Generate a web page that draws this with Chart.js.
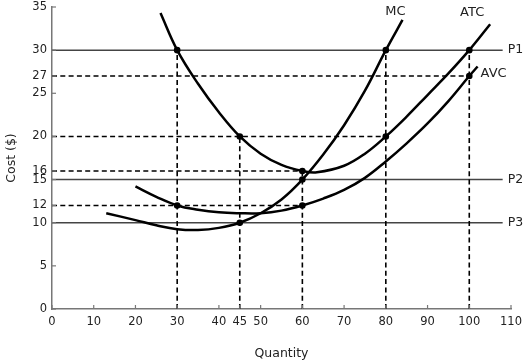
<!DOCTYPE html>
<html>
<head>
<meta charset="utf-8">
<script src="https://cdn.jsdelivr.net/npm/chart.js@4"></script>
<style>
  html, body { margin: 0; padding: 0; background: #fff; }
</style>
</head>
<body>
<canvas id="myChart" width="526" height="361"></canvas>
<script>
// axis ticks
const xTicks = [0, 10, 20, 30, 40, 45, 50, 60, 70, 80, 90, 100, 110]
const yTicks = [0, 5, 10, 12, 15, 16, 20, 25, 27, 30, 35]

// cost curves (quantity, cost)
const mcQ  = [13, 20, 25, 30, 35, 40, 45, 50, 55, 60, 65, 70, 75, 80, 84]
const mcC  = [11.1, 10.3, 9.7, 9.25, 9.15, 9.4, 10, 11.1, 12.7, 15, 17.9, 21.3, 25.3, 30, 33.5]
const atcQ = [26, 30, 35, 40, 45, 50, 55, 60, 63.5, 70, 75, 80, 85, 90, 95, 100, 105]
const atcC = [34.3, 30, 26.1, 22.8, 20, 18, 16.7, 16, 15.85, 16.6, 18, 20, 22.3, 24.8, 27.3, 30, 33]
const avcQ = [20, 25, 30, 35, 40, 45, 50, 55, 60, 65, 70, 75, 80, 85, 90, 95, 100, 102]
const avcC = [14.2, 13, 12, 11.5, 11.2, 11.1, 11.1, 11.4, 12, 12.8, 13.8, 15.2, 17.1, 19.2, 21.5, 24.1, 27, 28.1]

// price lines
const priceNames = ['P1', 'P2', 'P3']
const prices = [30, 15, 10]
const priceEnd = 108

// marked points
const dotQ = [30, 45, 60, 80, 100, 30, 60, 80, 45, 60, 100]
const dotC = [30, 20, 16, 30, 30, 12, 12, 20, 10, 15, 27]

// dashed guides: horizontal (cost, up to quantity) and vertical (quantity, up to cost)
const hGuideC = [27, 20, 16, 12]
const hGuideQ = [100, 80, 60, 60]
const vGuideQ = [30, 45, 60, 80, 100]
const vGuideC = [30, 20, 16, 30, 30]

const pts = (xs, ys) => xs.map((q, i) => ({x: q, y: ys[i]}))
const FONT = 'DejaVu Sans'

const datasets = []
// dots on top
datasets.push({
  data: pts(dotQ, dotC), showLine: false, pointRadius: 3.3,
  pointBackgroundColor: '#000', pointBorderWidth: 0, order: 0
})
const curves = [['MC', mcQ, mcC], ['ATC', atcQ, atcC], ['AVC', avcQ, avcC]]
curves.forEach(c => datasets.push({
  label: c[0], data: pts(c[1], c[2]), showLine: true, borderColor: '#000',
  borderWidth: 2.5, pointRadius: 0, tension: 0.4, order: 1
}))
hGuideC.forEach((c, i) => datasets.push({
  data: [{x: 0, y: c}, {x: hGuideQ[i], y: c}], showLine: true, borderColor: '#000',
  borderWidth: 1.6, borderDash: [5, 3.3], pointRadius: 0, order: 2
}))
vGuideQ.forEach((q, i) => datasets.push({
  data: [{x: q, y: 0}, {x: q, y: vGuideC[i]}], showLine: true, borderColor: '#000',
  borderWidth: 1.6, borderDash: [5, 3.3], pointRadius: 0, order: 2
}))
prices.forEach(p => datasets.push({
  data: [{x: 0, y: p}, {x: priceEnd, y: p}], showLine: true, borderColor: '#444',
  borderWidth: 1.5, pointRadius: 0, order: 3
}))

const extras = {
  id: 'extras',
  afterDraw(chart) {
    const {ctx, scales: {x, y}} = chart
    ctx.save()
    ctx.strokeStyle = '#777'
    ctx.lineWidth = 1.2
    xTicks.forEach(v => {
      const px = x.getPixelForValue(v)
      ctx.beginPath(); ctx.moveTo(px, y.bottom); ctx.lineTo(px, y.bottom - 4); ctx.stroke()
    })
    yTicks.forEach(v => {
      const py = y.getPixelForValue(v)
      ctx.beginPath(); ctx.moveTo(x.left, py); ctx.lineTo(x.left + 4, py); ctx.stroke()
    })
    ctx.fillStyle = '#222'
    ctx.textBaseline = 'middle'
    ctx.textAlign = 'left'
    ctx.font = '12.5px "' + FONT + '"'
    prices.forEach((p, i) => {
      ctx.fillText(priceNames[i], x.getPixelForValue(priceEnd) + 5, y.getPixelForValue(p))
    })
    // curve names near the curve ends
    ctx.font = '13px "' + FONT + '"'
    const offs = [[-7, -8, 'center'], [-18, -12, 'center'], [3, 7, 'left']]
    curves.forEach((c, i) => {
      const q = c[1][c[1].length - 1], v = c[2][c[2].length - 1]
      ctx.textAlign = offs[i][2]
      ctx.fillText(c[0], x.getPixelForValue(q) + offs[i][0], y.getPixelForValue(v) + offs[i][1])
    })
    ctx.restore()
  }
}

const myChart = new Chart(document.querySelector('#myChart'), {
  type: 'scatter',
  data: {datasets},
  options: {
    responsive: false,
    animation: false,
    layout: {padding: {top: 7, right: 15}},
    plugins: {legend: {display: false}, tooltip: {enabled: false}},
    scales: {
      x: {
        type: 'linear', min: 0, max: 110,
        afterBuildTicks: s => { s.ticks = xTicks.map(v => ({value: v})) },
        afterFit: s => { s.height = 52; s.paddingLeft = 0; s.paddingRight = 0 },
        grid: {display: false, drawTicks: false},
        border: {color: '#777', width: 1.5},
        ticks: {autoSkip: false, maxRotation: 0, padding: 6, color: '#222', font: {family: FONT, size: 11.5}},
        title: {display: true, text: 'Quantity', color: '#222', padding: {top: 0, bottom: 0}, font: {family: FONT, size: 12.5}}
      },
      y: {
        type: 'linear', min: 0, max: 35,
        afterBuildTicks: s => { s.ticks = yTicks.map(v => ({value: v})) },
        afterFit: s => { s.width = 52; s.paddingTop = 0; s.paddingBottom = 0 },
        grid: {display: false, drawTicks: false},
        border: {color: '#777', width: 1.5},
        ticks: {autoSkip: false, padding: 5, color: '#222', font: {family: FONT, size: 11.5}},
        title: {display: true, text: 'Cost ($)', color: '#222', padding: {top: 4, bottom: 0}, font: {family: FONT, size: 12.5}}
      }
    }
  },
  plugins: [extras]
})
</script>
</body>
</html>
